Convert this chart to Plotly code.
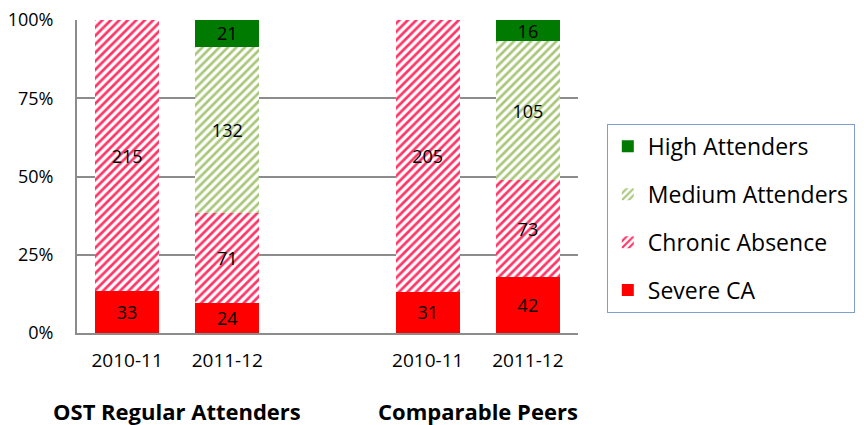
import plotly.graph_objects as go

positions = [0, 1, 3, 4]
year_labels = ["2010-11", "2011-12", "2010-11", "2011-12"]
group_labels = ["OST Regular Attenders", "Comparable Peers"]
group_centers = [0.5, 3.5]
pct_ticks = [0, 25, 50, 75, 100]
pct_labels = ["0%", "25%", "50%", "75%", "100%"]

severe = [33, 24, 31, 42]
chronic = [215, 71, 205, 73]
medium = [None, 132, None, 105]
high = [None, 21, None, 16]

font_family = "'Open Sans', Lato, 'Noto Sans', sans-serif"

fig = go.Figure()

def add(name, vals, color, rank, pattern=None):
    marker = dict(color=color, line=dict(width=0))
    if pattern:
        marker = dict(color="white", line=dict(width=0),
                      pattern=dict(shape="/", fgcolor=color, bgcolor="white",
                                   size=6, solidity=0.45, fillmode="replace"))
    fig.add_trace(go.Bar(
        x=positions, y=vals, name=name, width=0.64,
        marker=marker,
        text=[("" if v is None else str(v)) for v in vals],
        textposition="inside", insidetextanchor="middle",
        textangle=0, constraintext="none",
        textfont=dict(size=18, color="black", family=font_family),
        legendgroup=name, legendrank=rank,
    ))

add("Severe CA", severe, "#FF0000", 4)
add("Chronic Absence", chronic, "#FF3366", 3, pattern=True)
add("Medium Attenders", medium, "#A9C77A", 2, pattern=True)
add("High Attenders", high, "#007A00", 1)

for c, lab in zip(group_centers, group_labels):
    fig.add_annotation(x=c, y=-0.25, xref="x", yref="paper", yanchor="middle",
                       text=f"<b>{lab}</b>",
                       showarrow=False, font=dict(size=22, color="black", family=font_family))

fig.update_layout(
    width=867, height=425,
    barmode="stack", barnorm="percent",
    plot_bgcolor="white", paper_bgcolor="white",
    margin=dict(l=77, r=286, t=20, b=92),
    font=dict(family=font_family, color="black"),
    legend=dict(
        x=1.0575, y=0.668, xanchor="left", yanchor="top",
        traceorder="grouped", tracegroupgap=15,
        bordercolor="#7F9FD0", borderwidth=1,
        font=dict(size=23, family=font_family, color="black"),
        itemwidth=30,
    ),
    xaxis=dict(
        range=[-0.5, 4.5], tickvals=positions, ticktext=year_labels,
        showline=True, linecolor="#8C8C8C", linewidth=2,
        ticks="", ticklabelstandoff=9, tickfont=dict(size=19, family=font_family),
        showgrid=False, zeroline=False, automargin=False,
    ),
    yaxis=dict(
        range=[0, 100], tickvals=pct_ticks, ticktext=pct_labels,
        showline=True, linecolor="#8C8C8C", linewidth=2,
        ticks="", ticklabelstandoff=18,
        showgrid=True, gridcolor="#8C8C8C", gridwidth=2,
        tickfont=dict(size=18, family=font_family), zeroline=False, automargin=False,
    ),
)

fig.write_html("out.html", config={"displayModeBar": False},
               post_script="document.body.style.margin='0px';")
